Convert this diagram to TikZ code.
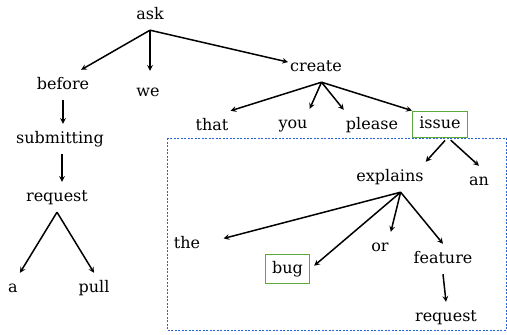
\documentclass[tikz,border=0pt]{standalone}
\usepackage{fontspec}
\setmainfont{DejaVu Serif}
\usetikzlibrary{positioning}

\definecolor{boxgreen}{RGB}{90,170,60}
\definecolor{spanblue}{RGB}{40,100,220}
\newcommand{\wordfont}{\fontsize{16}{19}\selectfont}

\begin{document}
\begin{tikzpicture}[x=1pt, y=-1pt]
        % Define styles for words, boxes and arrows
        \tikzstyle{word} = [font=\wordfont, anchor=base, text height=12pt, text depth=4pt, inner xsep=2pt, inner ysep=7pt]
        \tikzstyle{keyword} = [word, draw=boxgreen, line width=0.9pt, inner xsep=7pt]
        \tikzstyle{arrow} = [line width=1.5pt,->,>=stealth]
        \useasboundingbox (0,0) rectangle (507,335);

        % Words
        \node[word] (ask) at (150,19) {ask};
        \node[word] (before) at (63,89) {before};
        \node[word] (we) at (148,96) {we};
        \node[word] (create) at (316,71) {create};
        \node[word] (submitting) at (60,143) {submitting};
        \node[word] (request) at (57,201) {request};
        \node[word] (a) at (13,292) {a};
        \node[word] (pull) at (94,292) {pull};
        \node[word] (that) at (212,130) {that};
        \node[word] (you) at (293,128) {you};
        \node[word] (please) at (372,129) {please};
        \node[keyword, inner ysep=5pt] (issue) at (440,128) {issue};
        \node[word] (explains) at (390,181) {explains};
        \node[word] (an) at (479,185) {an};
        \node[word] (the) at (187,248) {the};
        \node[keyword, inner ysep=6.5pt] (bug) at (287.5,273) {bug};
        \node[word] (or) at (380,251) {or};
        \node[word] (feature) at (443,263) {feature};
        \node[word] (featurereq) at (446,321) {request};

        % Span of the relative clause
        \draw[spanblue, dashed, line width=0.8pt, dash pattern=on 2pt off 1.5pt] (167,138) rectangle (506,330);

        % Arrows
        \draw[arrow] (ask.south) -- (before.40);
        \draw[arrow] (ask.south) -- ([yshift=6pt]ask.south |- we.north);
        \draw[arrow] (ask.south) -- (create.170);
        \draw[arrow] (before.south) -- (before.south |- submitting.north);
        \draw[arrow] ([xshift=2pt]submitting.south) -- ([xshift=2pt]submitting.south |- request.north);
        \draw[arrow] (request.south) -- (a.north east);
        \draw[arrow] (request.south) -- (pull.north);
        \draw[arrow] (create.-70) -- (that.north east);
        \draw[arrow] (create.-70) -- (you.north east);
        \draw[arrow] (create.-70) -- (please.north west);
        \draw[arrow] (create.-70) -- (issue.north west);
        \draw[arrow, shorten <=4pt] (issue.-60) -- (explains.north east);
        \draw[arrow, shorten <=4pt] (issue.-60) -- (an.north);
        \draw[arrow, shorten >=22pt] (explains.-55) -- (the.east);
        \draw[arrow, shorten >=5pt] (explains.-55) -- (bug.east);
        \draw[arrow] (explains.-55) -- (or.north east);
        \draw[arrow] (explains.-55) -- (feature.north);
        \draw[arrow] (feature.south) -- (featurereq.north);
\end{tikzpicture}
\end{document}
